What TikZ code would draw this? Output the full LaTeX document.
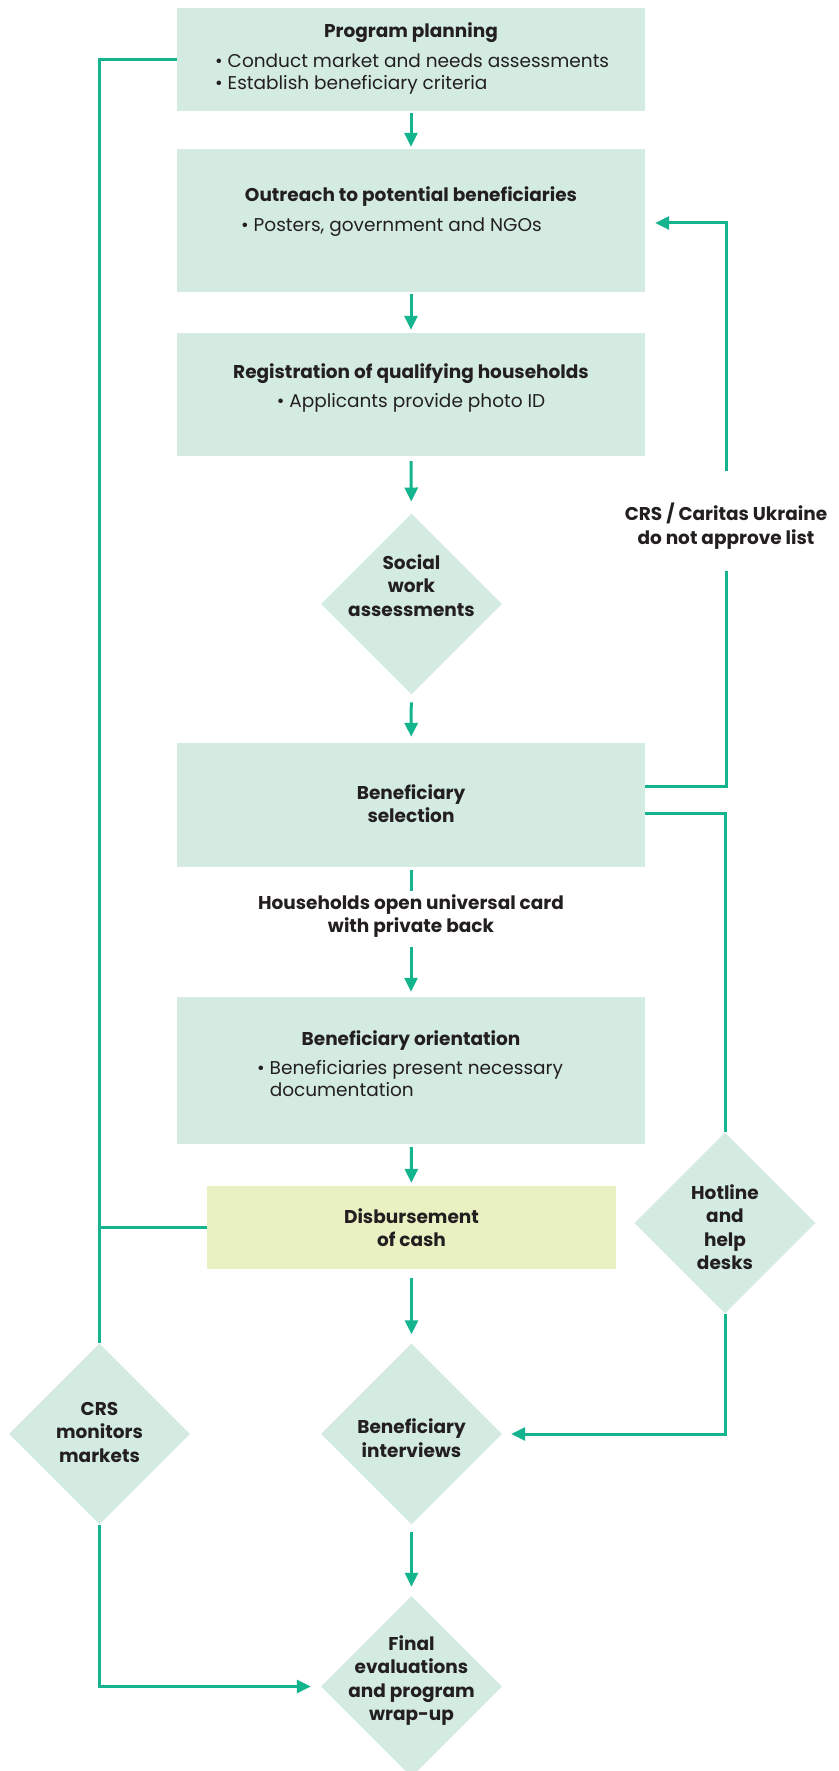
\documentclass[tikz,border=0pt]{standalone}
\usepackage{fontspec}
\setmainfont{Poppins}
\usetikzlibrary{shapes.geometric,arrows.meta}
\definecolor{mint}{HTML}{D3EBE1}
\definecolor{lime}{HTML}{E9F1C3}
\definecolor{grn}{HTML}{14B48E}
\definecolor{ink}{HTML}{231F20}
\begin{document}
\begin{tikzpicture}[x=1pt,y=-1pt,
  box/.style={fill=mint, draw=none, minimum width=468pt, inner sep=0pt},
  ybox/.style={fill=lime, draw=none, minimum width=409pt, minimum height=83pt, inner sep=0pt},
  dia/.style={diamond, fill=mint, draw=none, minimum width=181pt, minimum height=181pt, inner sep=0pt},
  bt/.style={font=\fontsize{18.5}{23.5}\selectfont\bfseries, text=ink, align=center, inner sep=0pt},
  rt/.style={font=\fontsize{18.5}{22}\selectfont, text=ink, align=left, inner sep=0pt},
  line/.style={draw=grn, line width=3pt},
  arr/.style={line, -{Triangle[width=13pt,length=14pt]}},
]
\fill[white] (0,0) rectangle (838,1771);
\useasboundingbox (0,0) rectangle (838,1771);

% boxes
\node[box, minimum height=103pt] (plan) at (411,59.5) {};
\node[box, minimum height=143pt] (outreach) at (411,220.5) {};
\node[box, minimum height=123pt] (reg) at (411,394.5) {};
\node[dia] (sw) at (411.5,604) {};
\node[box, minimum height=124pt] (sel) at (411,805) {};
\node[box, minimum height=147pt] (orient) at (411,1070.5) {};
\node[ybox] (disb) at (411.5,1227.5) {};
\node[dia] (hot) at (725,1223) {};
\node[dia] (int) at (411.5,1434) {};
\node[dia] (crs) at (99.5,1434) {};
\node[dia] (fin) at (411.5,1686.5) {};

% texts
\node[bt] (plant) at (411,33) {Program planning};
\node[rt, anchor=north west] (planb) at (215,54) {\textbullet\ Conduct market and needs assessments\\\textbullet\ Establish beneficiary criteria};
\node[bt] (outt) at (411,197) {Outreach to potential beneficiaries};
\node[rt, anchor=west] (outb) at (241,227) {\textbullet\ Posters, government and NGOs};
\node[bt] (regt) at (411,374) {Registration of qualifying households};
\node[rt] (regb) at (411,403) {\textbullet\ Applicants provide photo ID};
\node[bt] (swt) at (411.5,585.5) {Social\\work\\assessments};
\node[bt] (selt) at (411,803.5) {Beneficiary\\selection};
\node[bt] (hh) at (411,916) {Households open universal card\\with private back};
\node[bt] (ort) at (411,1041) {Beneficiary orientation};
\node[rt, anchor=north west] (orb) at (257,1060) {\textbullet\ Beneficiaries present necessary\\\phantom{\textbullet\ }documentation};
\node[bt] (disbt) at (411.5,1227.5) {Disbursement\\of cash};
\node[bt] (hott) at (725,1227) {Hotline\\and\\help\\desks};
\node[bt] (crst) at (99.5,1432) {CRS\\monitors\\markets};
\node[bt] (intt) at (411.5,1438) {Beneficiary\\interviews};
\node[bt] (fint) at (411.5,1680.5) {Final\\evaluations\\and program\\wrap-up};
\node[bt] (crsl) at (726,526) {CRS / Caritas Ukraine\\do not approve list};

% main flow
\draw[arr, shorten <=2pt, shorten >=2pt] (plan) -- (outreach);
\draw[arr, shorten <=2pt, shorten >=3pt] (outreach) -- (reg);
\draw[arr, shorten <=5pt, shorten >=12pt] (reg) -- (sw);
\draw[arr, shorten <=8pt, shorten >=6pt] (sw) -- (sel);
\draw[line, shorten <=3pt, shorten >=3pt] (sel) -- (hh);
\draw[arr, shorten <=9pt, shorten >=5pt] (hh) -- (orient);
\draw[arr, shorten <=3pt, shorten >=3pt] (orient) -- (disb);
\draw[arr, shorten <=9pt, shorten >=9pt] (disb) -- (int);
\draw[arr, shorten <=7pt, shorten >=9pt] (int) -- (fin);

% left loop
\draw[line] (plan.west) -| (crs.north);
\draw[line] (disb.west) -- (disb.west -| crs.north);
\draw[arr, shorten >=10pt] (crs.south) |- (fin.west);

% right loops
\draw[line, shorten >=22pt] ([yshift=19pt]sel.east) -| (crsl.south);
\draw[arr, shorten <=32pt, shorten >=10pt] (crsl.north) |- ([yshift=-2.5pt]outreach.east);
\draw[line] ([yshift=-8pt]sel.east) -| (hot.north);
\draw[arr, shorten >=9pt] (hot.south) |- (int.east);
\end{tikzpicture}
\end{document}
